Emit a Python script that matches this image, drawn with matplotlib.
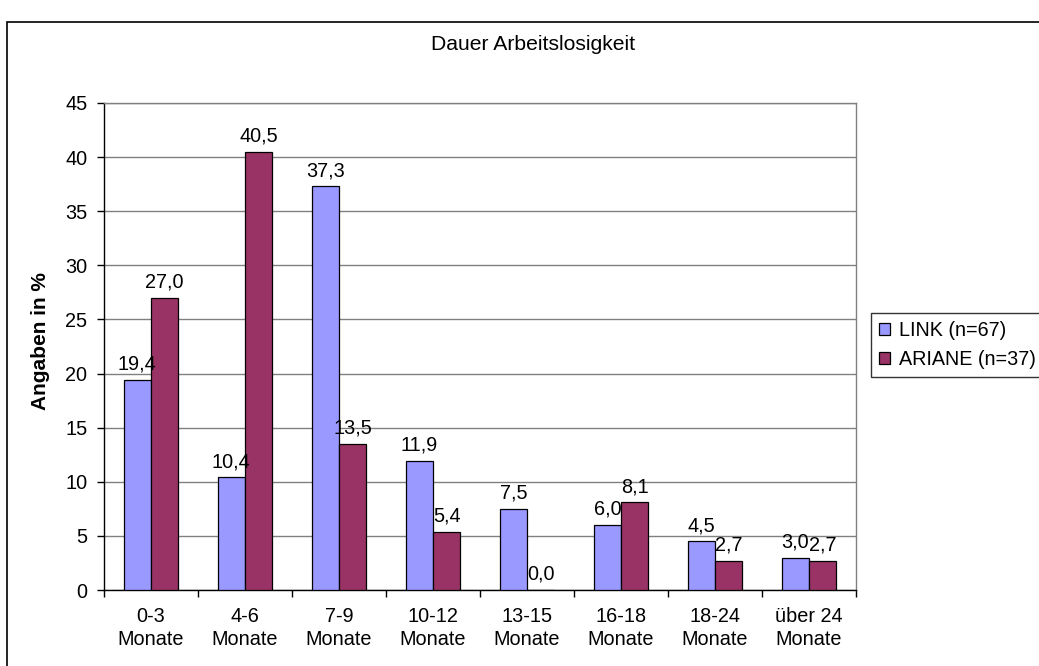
import matplotlib
matplotlib.use("Agg")
import matplotlib.pyplot as plt
import numpy as np
from matplotlib.patches import Rectangle

plt.rcParams['font.family'] = ['Liberation Sans', 'DejaVu Sans']

categories = ["0-3\nMonate", "4-6\nMonate", "7-9\nMonate", "10-12\nMonate",
              "13-15\nMonate", "16-18\nMonate", "18-24\nMonate", "über 24\nMonate"]
link_values = [19.4, 10.4, 37.3, 11.9, 7.5, 6.0, 4.5, 3.0]
ariane_values = [27.0, 40.5, 13.5, 5.4, 0.0, 8.1, 2.7, 2.7]
series_labels = ["LINK (n=67)", "ARIANE (n=37)"]
y_ticks = [0, 5, 10, 15, 20, 25, 30, 35, 40, 45]

W, H = 1039, 666
fig = plt.figure(figsize=(W / 100, H / 100), dpi=100)
fig.patch.set_facecolor("white")

# outer chart frame
fig.add_artist(Rectangle((7 / W, -0.05), 1.2, (H - 22) / H + 0.05,
                         transform=fig.transFigure, fill=False,
                         edgecolor="black", linewidth=1.2))

ax = fig.add_axes([104 / W, (H - 590) / H, 752 / W, 487 / H])

x = np.arange(len(categories))
w = 0.29
b1 = ax.bar(x - w / 2, link_values, w, color="#9999FF", edgecolor="black",
            linewidth=0.9, label=series_labels[0], zorder=3)
b2 = ax.bar(x + w / 2, ariane_values, w, color="#993366", edgecolor="black",
            linewidth=0.9, label=series_labels[1], zorder=3)

for bars, vals in ((b1, link_values), (b2, ariane_values)):
    for rect, v in zip(bars, vals):
        ax.annotate(f"{v:.1f}".replace(".", ","),
                    (rect.get_x() + rect.get_width() / 2, v),
                    xytext=(0, 4.5), textcoords="offset points",
                    ha="center", va="bottom", fontsize=14.3)

ax.set_xlim(-0.5, len(categories) - 0.5)
ax.set_ylim(0, 45)
ax.set_yticks(y_ticks)
ax.yaxis.grid(True, color="#808080", linewidth=1.0, zorder=0)
ax.set_axisbelow(True)

ax.set_xticks(x)
ax.set_xticklabels(categories, fontsize=14.3, linespacing=1.32)
ax.set_xticks(np.arange(-0.5, len(categories)), minor=True)
ax.tick_params(axis="x", which="major", length=0, pad=12)
ax.tick_params(axis="x", which="minor", length=5, width=1, direction="out")
ax.tick_params(axis="y", length=5, width=1, direction="out", labelsize=14.3, pad=7)

for s in ("top", "right"):
    ax.spines[s].set_color("#808080")
    ax.spines[s].set_linewidth(1.0)
for s in ("left", "bottom"):
    ax.spines[s].set_color("black")
    ax.spines[s].set_linewidth(1.0)

fig.text(40 / W, 1 - 341 / H, "Angaben in %", rotation=90, ha="center",
         va="center", fontsize=15, fontweight="bold")

fig.text(533 / W, 1 - 45 / H, "Dauer Arbeitslosigkeit", ha="center",
         va="center", fontsize=15.2)

leg = fig.legend(loc="upper left", bbox_to_anchor=(871 / W, 1 - 313 / H),
                 frameon=True, fancybox=False, edgecolor="black",
                 fontsize=14.2, handlelength=0.55, handleheight=0.55,
                 handletextpad=0.45, borderpad=0.4, labelspacing=0.5,
                 borderaxespad=0)
leg.get_frame().set_linewidth(1.0)

fig.savefig("out.png", dpi=100, facecolor="white")
